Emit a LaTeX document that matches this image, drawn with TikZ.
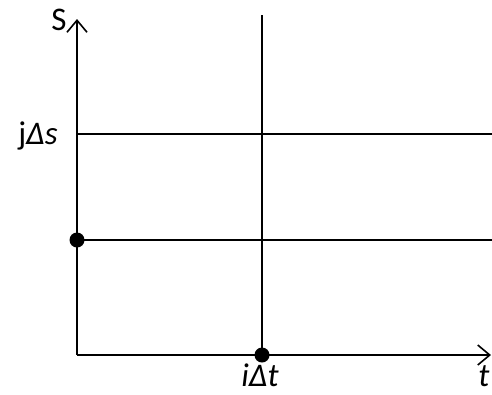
\documentclass[tikz,border=0pt]{standalone}
\usepackage{fontspec}
\setmainfont{Carlito}
\usetikzlibrary{arrows.meta}
\begin{document}
\begin{tikzpicture}[x=1pt,y=-1pt,
  axis/.style={line width=2pt,-{Straight Barb[length=12pt,width=20pt,line width=1.6pt]}},
  gridline/.style={line width=1.8pt},
  dot/.style={circle,fill=black,inner sep=0pt,minimum size=15pt},
  lbl/.style={font=\fontsize{33}{33}\selectfont,inner sep=0pt}]
\useasboundingbox (0,0) rectangle (492,394);
\coordinate (O) at (77,355);
\coordinate (ytop) at (77,19);
\coordinate (xend) at (491,355);
\coordinate (vtop) at (262,15);
\coordinate (h1a) at (77,134);
\coordinate (h1b) at (492,134);
\coordinate (h2b) at (492,240);
\node[dot] (d1) at (77,240) {};
\node[dot] (d2) at (262,355) {};
\draw[gridline] (h1a) -- (h1b);
\draw[gridline] (d1.center) -- (h2b);
\draw[gridline] (vtop) -- (d2.center);
\draw[axis] (O) -- (ytop);
\draw[axis] (O) -- (xend);
\node[lbl,anchor=base] (S) at (59,30) {S};
\node[lbl,anchor=base] (js) at (38,144) {j\itshape Δs};
\node[lbl,anchor=base] (it) at (260,386) {\itshape iΔt};
\node[lbl,anchor=base] (t) at (484,386) {\itshape t};
\end{tikzpicture}
\end{document}
